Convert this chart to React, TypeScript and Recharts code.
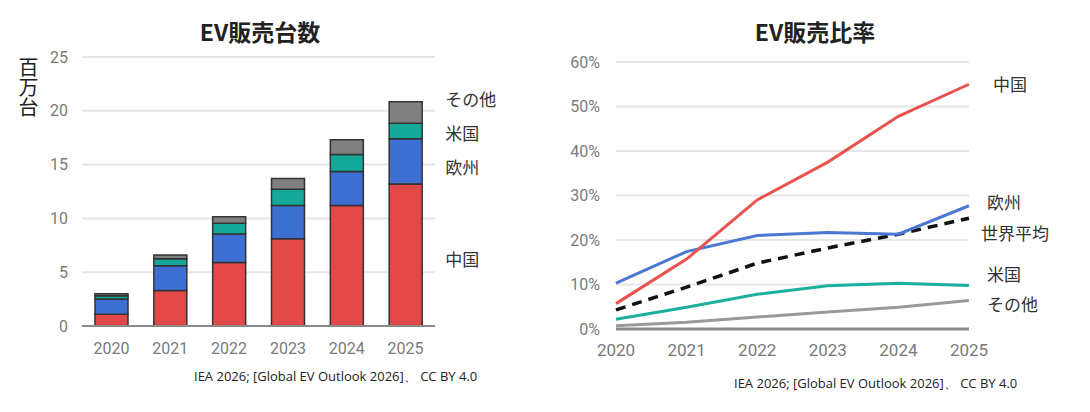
import React from "react"
import {
  BarChart, Bar, LineChart, Line, XAxis, YAxis, CartesianGrid, LabelList,
} from "recharts"

const years = ["2020", "2021", "2022", "2023", "2024", "2025"]

// EV sales, millions of units
const salesChina = [1.1, 3.3, 5.9, 8.1, 11.2, 13.2]
const salesEurope = [1.4, 2.3, 2.65, 3.1, 3.15, 4.2]
const salesUS = [0.3, 0.65, 1.0, 1.5, 1.6, 1.45]
const salesOther = [0.2, 0.35, 0.6, 1.0, 1.35, 2.0]
const salesTicks = [0, 5, 10, 15, 20, 25]

// EV share of new car sales, %
const shareChina = [5.7, 15.7, 29, 37.5, 47.8, 55]
const shareEurope = [10.3, 17.4, 21, 21.7, 21.3, 27.7]
const shareWorld = [4.3, 9.4, 14.8, 18.2, 21.3, 24.9]
const shareUS = [2.2, 4.9, 7.8, 9.7, 10.3, 9.8]
const shareOther = [0.75, 1.5, 2.7, 3.8, 4.9, 6.4]
const shareTicks = [0, 10, 20, 30, 40, 50, 60]

const salesData = years.map((year, i) => ({
  year,
  china: salesChina[i],
  europe: salesEurope[i],
  us: salesUS[i],
  other: salesOther[i],
}))

const shareData = years.map((year, i) => ({
  year,
  china: shareChina[i],
  europe: shareEurope[i],
  world: shareWorld[i],
  us: shareUS[i],
  other: shareOther[i],
}))

const CJK = '"Noto Sans CJK JP", "Noto Sans", sans-serif'
const NUM = 'Roboto, "Liberation Sans", sans-serif'
const last = years.length - 1

const tickStyle = { fill: "#7a7a7a", fontSize: 16, fontFamily: NUM }

function barLabel(text: string, dy: number) {
  return (props: any) => {
    if (props.index !== last) return null
    const x = Number(props.x) + Number(props.width) + 23
    const y = Number(props.y) + Number(props.height) / 2 + dy
    return (
      <text x={x} y={y} dominantBaseline="central" fill="#333" fontSize={17} fontFamily={CJK}>
        {text}
      </text>
    )
  }
}

function lineLabel(text: string, dx: number, dy: number) {
  return (props: any) => {
    if (props.index !== last) return null
    return (
      <text x={Number(props.x) + dx} y={Number(props.y) + dy} dominantBaseline="central"
        fill="#333" fontSize={17} fontFamily={CJK}>
        {text}
      </text>
    )
  }
}

const titleStyle: React.CSSProperties = {
  position: "absolute", top: 15, fontFamily: CJK, fontWeight: 700, fontSize: 23,
  color: "#222", transform: "translateX(-50%)", whiteSpace: "nowrap", lineHeight: "32px",
}

const sourceStyle: React.CSSProperties = {
  position: "absolute", fontFamily: '"Open Sans", sans-serif', fontSize: 13,
  color: "#222", whiteSpace: "nowrap", lineHeight: "18px",
}

function SalesChart() {
  return (
    <div style={{ position: "absolute", left: 0, top: 0, width: 545, height: 412 }}>
      <div style={{ ...titleStyle, left: 260 }}>EV販売台数</div>
      <div style={{
        position: "absolute", left: 17, top: 57, fontFamily: CJK, fontSize: 20,
        lineHeight: "22px", color: "#222", writingMode: "vertical-rl",
      }}>
        百万台
      </div>
      <BarChart width={545} height={412} data={salesData}
        margin={{ top: 57, right: 110, bottom: 56, left: 0 }}>
        <CartesianGrid vertical={false} stroke="#e6e6e6" strokeWidth={2} />
        <XAxis dataKey="year" height={30} axisLine={{ stroke: "#8a8a8a", strokeWidth: 2 }}
          tickLine={false} tickSize={6} tickMargin={11} tick={tickStyle} />
        <YAxis width={82} domain={[0, 25]} ticks={salesTicks} axisLine={false} tickLine={false}
          tickSize={6} tickMargin={8} tick={tickStyle} />
        <Bar dataKey="china" stackId="s" fill="#e34848" stroke="#333" strokeWidth={1.5}
          barSize={33} isAnimationActive={false}>
          <LabelList content={barLabel("中国", 4)} />
        </Bar>
        <Bar dataKey="europe" stackId="s" fill="#3d6fd3" stroke="#333" strokeWidth={1.5}
          barSize={33} isAnimationActive={false}>
          <LabelList content={barLabel("欧州", 5)} />
        </Bar>
        <Bar dataKey="us" stackId="s" fill="#14a898" stroke="#333" strokeWidth={1.5}
          barSize={33} isAnimationActive={false}>
          <LabelList content={barLabel("米国", 2)} />
        </Bar>
        <Bar dataKey="other" stackId="s" fill="#808080" stroke="#333" strokeWidth={1.5}
          barSize={33} isAnimationActive={false}>
          <LabelList content={barLabel("その他", -14)} />
        </Bar>
      </BarChart>
      <div style={{ ...sourceStyle, left: 194, top: 367 }}>
        IEA 2026; [Global EV Outlook 2026]、 CC BY 4.0
      </div>
    </div>
  )
}

function ShareChart() {
  return (
    <div style={{ position: "absolute", left: 545, top: 0, width: 545, height: 412 }}>
      <div style={{ ...titleStyle, left: 270 }}>EV販売比率</div>
      <LineChart width={545} height={412} data={shareData}
        margin={{ top: 62, right: 121, bottom: 53, left: 0 }}>
        <CartesianGrid vertical={false} stroke="#e6e6e6" strokeWidth={2} />
        <XAxis dataKey="year" height={30} axisLine={{ stroke: "#8a8a8a", strokeWidth: 3 }}
          tickLine={false} tickSize={6} tickMargin={9} tick={{ ...tickStyle, fontSize: 17 }} />
        <YAxis width={71} domain={[0, 60]} ticks={shareTicks} axisLine={false} tickLine={false}
          tickSize={6} tickMargin={10} tick={tickStyle} tickFormatter={(v) => `${v}%`} />
        <Line dataKey="other" stroke="#9a9a9a" strokeWidth={3} dot={false} isAnimationActive={false}>
          <LabelList content={lineLabel("その他", 18, 3)} />
        </Line>
        <Line dataKey="us" stroke="#1bb09e" strokeWidth={3} dot={false} isAnimationActive={false}>
          <LabelList content={lineLabel("米国", 18, -12)} />
        </Line>
        <Line dataKey="world" stroke="#111" strokeWidth={3.5} strokeDasharray="10 7" dot={false}
          isAnimationActive={false}>
          <LabelList content={lineLabel("世界平均", 12, 14)} />
        </Line>
        <Line dataKey="europe" stroke="#4a78d3" strokeWidth={3} dot={false} isAnimationActive={false}>
          <LabelList content={lineLabel("欧州", 18, -4)} />
        </Line>
        <Line dataKey="china" stroke="#e8524f" strokeWidth={3} dot={false} isAnimationActive={false}>
          <LabelList content={lineLabel("中国", 24, -1)} />
        </Line>
      </LineChart>
      <div style={{ ...sourceStyle, left: 189, top: 374 }}>
        IEA 2026; [Global EV Outlook 2026]、 CC BY 4.0
      </div>
    </div>
  )
}

export default function App() {
  return (
    <div style={{ position: "absolute", left: 0, top: 0, width: 1090, height: 412, background: "#fff" }}>
      <SalesChart />
      <ShareChart />
    </div>
  )
}
